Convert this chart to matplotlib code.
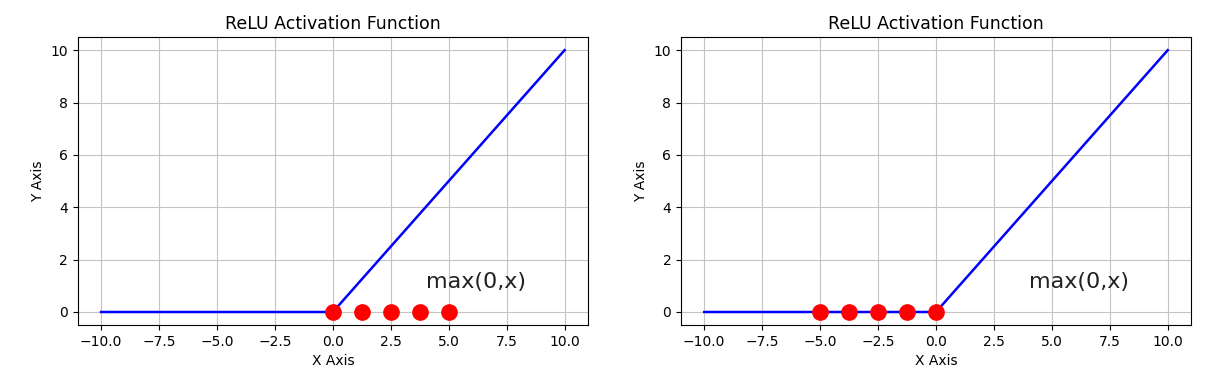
import matplotlib
matplotlib.use("Agg")
import matplotlib.pyplot as plt

x_line = [-10, 0, 10]
y_line = [0, 0, 10]
dots_left_x = [0, 1.25, 2.5, 3.75, 5]
dots_right_x = [-5, -3.75, -2.5, -1.25, 0]
dots_y = [0, 0, 0, 0, 0]
title = "ReLU Activation Function"
label_text = "max(0,x)"

fig = plt.figure(figsize=(12.17, 3.78), dpi=100)
ax1 = fig.add_axes([0.064, 0.140, 0.419, 0.762])
ax2 = fig.add_axes([0.5596, 0.140, 0.419, 0.762])

for ax, dx in ((ax1, dots_left_x), (ax2, dots_right_x)):
    ax.plot(x_line, y_line, color="blue", lw=1.8, zorder=2)
    ax.plot(dx, dots_y, "o", color="red", markersize=11, zorder=3)
    ax.text(4, 0.9, label_text, fontsize=16, color="#222222")
    ax.set_title(title, fontsize=12.5)
    ax.set_xlabel("X Axis", fontsize=10)
    ax.set_ylabel("Y Axis", fontsize=10)
    ax.set_xticks([-10, -7.5, -5, -2.5, 0, 2.5, 5, 7.5, 10])
    ax.set_yticks([0, 2, 4, 6, 8, 10])
    ax.tick_params(labelsize=10)
    ax.grid(True, color="#c4c4c4", lw=0.8)
    ax.set_axisbelow(True)

fig.savefig("out.png", dpi=100)
